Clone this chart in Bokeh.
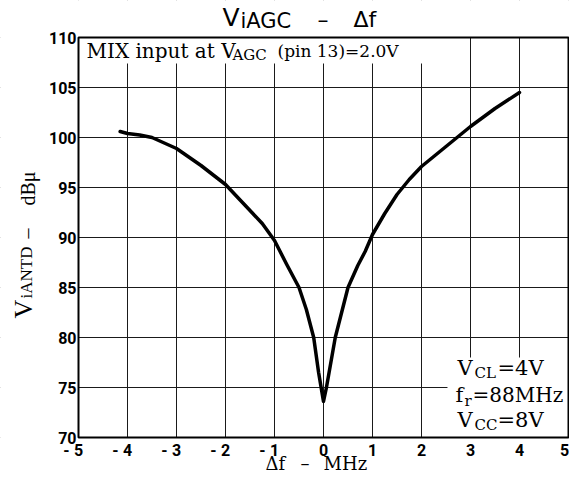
from bokeh.plotting import figure
from bokeh.models import Range1d, Label, FixedTicker
from bokeh.embed import file_html
from bokeh.resources import INLINE
import math

# ---- data ----
df_mhz = [-4.15, -4.0, -3.75, -3.5, -3.0, -2.5, -2.0, -1.5, -1.25, -1.0, -0.75, -0.5, -0.35,
          -0.2, -0.1, 0.0, 0.06, 0.24, 0.5, 0.7, 0.85, 1.0, 1.25, 1.5, 1.75, 2.0, 2.5, 3.0,
          3.5, 4.0]
v_antd = [100.6, 100.4, 100.25, 100.0, 98.9, 97.2, 95.3, 92.7, 91.4, 89.7, 87.3, 85.0, 82.8,
          80.0, 76.5, 73.6, 75.0, 80.0, 85.0, 87.2, 88.6, 90.3, 92.4, 94.3, 95.8, 97.1, 99.1,
          101.1, 102.9, 104.5]
x_ticks = [-5, -4, -3, -2, -1, 0, 1, 2, 3, 4, 5]
y_ticks = [70, 75, 80, 85, 90, 95, 100, 105, 110]
x_min, x_max = -5.0, 5.0
y_min, y_max = 70.0, 110.0

W, H = 569, 475
# chart box in page pixels
FL, FR, FT, FB = 78.0, 568.0, 37.0, 437.0
sx = (FR - FL) / (x_max - x_min)
sy = (FB - FT) / (y_max - y_min)


def px2x(px):
    return x_min + (px - FL) / sx


def py2y(py):
    return y_max - (py - FT) / sy


X0, X1 = px2x(0), px2x(W)
Y0, Y1 = py2y(H), py2y(0)

p = figure(width=W, height=H, output_backend="svg", toolbar_location=None,
           x_range=Range1d(X0, X1), y_range=Range1d(Y0, Y1),
           min_border=0, min_border_left=0, min_border_right=0,
           min_border_top=0, min_border_bottom=0)
p.background_fill_color = "white"
p.border_fill_color = "white"
p.outline_line_color = None
p.xaxis.visible = False
p.yaxis.visible = False

# built-in grid at the tick values
p.xgrid.ticker = FixedTicker(ticks=x_ticks)
p.ygrid.ticker = FixedTicker(ticks=y_ticks)
for g in (p.xgrid, p.ygrid):
    g.grid_line_color = "#1a1a1a"
    g.grid_line_width = 1
    g.grid_line_alpha = 1.0

# white masks: everything outside the chart box, plus the two note areas
m = 1.0
p.quad(left=[X0 - m, x_max, X0 - m, X0 - m, x_min, 2.53],
       right=[x_min, X1 + m, X1 + m, X1 + m, 2.3, x_max],
       bottom=[Y0 - m, Y0 - m, y_max, Y0 - m, 107.4, y_min],
       top=[Y1 + m, Y1 + m, Y1 + m, y_min, y_max, 78.0],
       fill_color="white", line_color=None)

# chart border
p.quad(left=[x_min], right=[x_max], bottom=[y_min], top=[y_max],
       fill_color=None, line_color="black", line_width=2)

p.line(df_mhz, v_antd, line_color="black", line_width=3.5, line_join="round", line_cap="round")


def lab(text, x, y, font, size, angle=0, style="normal", align="left", xo=0):
    p.add_layout(Label(x=x, y=y, text=text, text_font=font, x_offset=xo,
                       text_font_size=f"{size}px", text_font_style=style, angle=angle,
                       text_align=align, text_baseline="middle", text_color="black"))


def labp(text, px, py, font, size, **kw):
    lab(text, px2x(px), py2y(py), font, size, **kw)


# y tick labels
for t in y_ticks:
    lab(str(t), x_min, t, "Roboto", 16, style="bold", align="right", xo=-2)

# x tick labels
for t in x_ticks:
    shift = -4 if t == x_ticks[-1] else 0
    lab(str(abs(t)), t, py2y(449), "Roboto", 16, style="bold", align="center", xo=shift)
    if t < 0:
        lab("-", t, py2y(449), "Roboto", 16, style="bold", align="center", xo=-12)

SERIF = "DejaVu Serif"
# title (y = visual centre of the glyphs)
labp("V", 222, 17, "DejaVu Sans", 25)
labp("iAGC", 240, 20, "DejaVu Sans", 21)
labp("\u2013", 317, 19, "DejaVu Sans", 22)
labp("\u0394f", 353, 19, "DejaVu Sans", 22)

# x axis title
labp("\u0394f", 265, 463, SERIF, 18)
labp("\u2013", 300, 463, SERIF, 18)
labp("MHz", 323, 463, SERIF, 18)

# y axis title (rotated)
R = math.pi / 2
labp("V", 23, 318, "Liberation Serif", 26, angle=R)
labp("iANTD", 26, 298, "Liberation Serif", 17, angle=R)
labp("\u2013", 26, 238, "Liberation Serif", 20, angle=R)
labp("dB\u03bc", 27, 205, "Liberation Serif", 20, angle=R)

# condition text at top
labp("MIX input at V", 86, 50, SERIF, 20)
labp("AGC", 232, 54, SERIF, 15)
labp("(pin 13)=2.0V", 277, 50, SERIF, 17)

# lower-right conditions
labp("V", 457, 367, SERIF, 21)
labp("CL", 474, 372, SERIF, 15)
labp("=4V", 497, 367, SERIF, 21)
labp("f", 455, 394, SERIF, 21)
labp("r", 464, 400, SERIF, 15)
labp("=88MHz", 472, 394, SERIF, 20)
labp("V", 457, 419, SERIF, 21)
labp("CC", 474, 424, SERIF, 15)
labp("=8V", 497, 419, SERIF, 21)

open("out.html", "w").write(file_html(p, INLINE))
